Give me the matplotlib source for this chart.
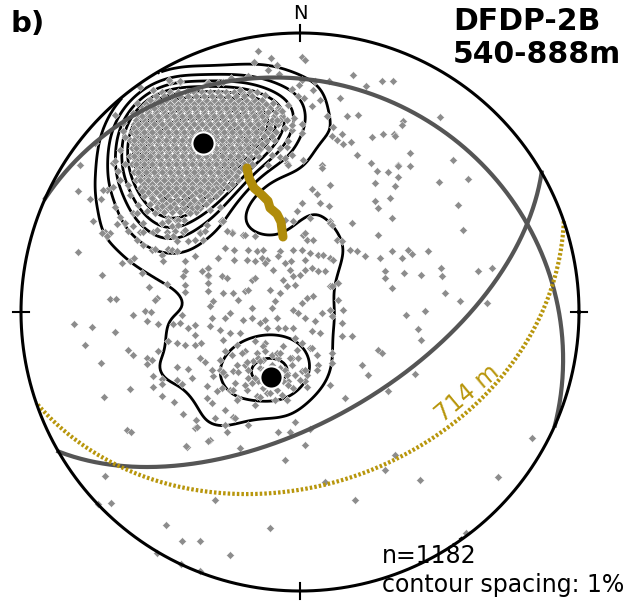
import numpy as np
import matplotlib.pyplot as plt

# Pole positions in the equal-area net, (east, north), net radius = 279 units
NET_R = 279.0

# dense pole cluster (NW), read row by row: (north, [east values])
cluster_rows = [
    (220, [-138, -130, -122, -114, -106, -98, -90, -82, -74, -66, -58, -50]),
    (212, [-150, -142, -134, -126, -118, -110, -102, -94, -86, -78, -70, -62, -54, -46, -38]),
    (204, [-158, -150, -142, -134, -126, -118, -110, -102, -94, -86, -78, -70, -62, -54, -46, -38, -30, -22]),
    (196, [-162, -154, -146, -138, -130, -122, -114, -106, -98, -90, -82, -74, -66, -58, -50, -42, -34, -26, -18]),
    (188, [-166, -158, -150, -142, -134, -126, -118, -110, -102, -94, -86, -78, -70, -62, -54, -46, -38, -30, -22]),
    (180, [-168, -160, -152, -144, -136, -128, -120, -112, -104, -96, -88, -80, -72, -64, -56, -48, -40, -32, -24]),
    (172, [-170, -162, -154, -146, -138, -130, -122, -114, -106, -98, -90, -82, -74, -66, -58, -50, -42, -34, -26]),
    (164, [-168, -160, -152, -144, -136, -128, -120, -112, -104, -96, -88, -80, -72, -64, -56, -48, -40, -32]),
    (156, [-170, -162, -154, -146, -138, -130, -122, -114, -106, -98, -90, -82, -74, -66, -58, -50, -42]),
    (148, [-168, -160, -152, -144, -136, -128, -120, -112, -104, -96, -88, -80, -72, -64, -56, -48]),
    (140, [-166, -158, -150, -142, -134, -126, -118, -110, -102, -94, -86, -78, -70, -62, -54]),
    (132, [-164, -156, -148, -140, -132, -124, -116, -108, -100, -92, -84, -76, -68, -62]),
    (124, [-160, -152, -144, -136, -128, -120, -112, -104, -96, -88, -80, -72]),
    (116, [-156, -148, -140, -132, -124, -116, -108, -100, -92, -84]),
    (108, [-150, -142, -134, -126, -118, -110, -102, -94]),
    (100, [-144, -136, -128, -120, -112, -104]),
    (92, [-132, -124, -116]),
]

# second set of cluster poles, between the rows above
cluster_mid_rows = [
    (216, [-144, -136, -128, -120, -112, -104, -96, -88, -80, -72, -64, -56, -48]),
    (208, [-154, -146, -138, -130, -122, -114, -106, -98, -90, -82, -74, -66, -58, -50, -42, -34]),
    (200, [-160, -152, -144, -136, -128, -120, -112, -104, -96, -88, -80, -72, -64, -56, -48, -40, -32, -24]),
    (192, [-164, -156, -148, -140, -132, -124, -116, -108, -100, -92, -84, -76, -68, -60, -52, -44, -36, -28, -20]),
    (184, [-166, -158, -150, -142, -134, -126, -118, -110, -102, -94, -86, -78, -70, -62, -54, -46, -38, -30]),
    (176, [-164, -156, -148, -140, -132, -124, -116, -108, -100, -92, -84, -76, -68, -60, -52, -44, -36, -28]),
    (168, [-166, -158, -150, -142, -134, -126, -118, -110, -102, -94, -86, -78, -70, -62, -54, -46, -38]),
    (160, [-164, -156, -148, -140, -132, -124, -116, -108, -100, -92, -84, -76, -68, -60, -52, -44]),
    (152, [-164, -156, -148, -140, -132, -124, -116, -108, -100, -92, -84, -76, -68, -60, -52]),
    (144, [-162, -154, -146, -138, -130, -122, -114, -106, -98, -90, -82, -74, -66, -58]),
    (136, [-160, -152, -144, -136, -128, -120, -112, -104, -96, -88, -80, -72, -64]),
    (128, [-156, -148, -140, -132, -124, -116, -108, -100, -92, -84, -76, -68]),
    (120, [-152, -144, -136, -128, -120, -112, -104, -96, -88, -80]),
    (112, [-146, -138, -130, -122, -114, -106, -98, -90]),
    (104, [-140, -132, -124, -116, -108, -100]),
]

# core of the cluster, third set
cluster_core_rows = [
    (204, [-154, -146, -138, -130, -122, -114, -106, -98, -90, -82, -74, -66, -58, -50, -42]),
    (196, [-158, -150, -142, -134, -126, -118, -110, -102, -94, -86, -78, -70, -62, -54, -46, -38]),
    (188, [-162, -154, -146, -138, -130, -122, -114, -106, -98, -90, -82, -74, -66, -58, -50, -42]),
    (180, [-164, -156, -148, -140, -132, -124, -116, -108, -100, -92, -84, -76, -68, -60, -52, -44]),
    (172, [-166, -158, -150, -142, -134, -126, -118, -110, -102, -94, -86, -78, -70, -62, -54, -46]),
    (164, [-164, -156, -148, -140, -132, -124, -116, -108, -100, -92, -84, -76, -68, -60, -52]),
    (156, [-166, -158, -150, -142, -134, -126, -118, -110, -102, -94, -86, -78, -70, -62]),
    (148, [-164, -156, -148, -140, -132, -124, -116, -108, -100, -92, -84, -76, -68]),
    (140, [-162, -154, -146, -138, -130, -122, -114, -106, -98, -90, -82, -74]),
    (132, [-160, -152, -144, -136, -128, -120, -112, -104, -96, -88, -80]),
    (124, [-156, -148, -140, -132, -124, -116, -108, -100, -92, -84]),
]

poles_fringe = [
    (-193, 122), (-185, 105), (-175, 89), (-195, 80), (-180, 95), (-167, 99), (-157, 89), (-160, 80),
    (-147, 80), (-138, 89), (-133, 80), (-117, 80), (-122, 92), (-110, 99), (-100, 80), (-93, 87),
    (-78, 92), (-68, 80), (-57, 77), (-117, 109), (-130, 105), (-143, 105), (-103, 105), (-90, 102),
    (-80, 105), (-100, 122), (-87, 122), (-73, 125), (-187, 125), (-175, 175), (-180, 162), (-187, 149),
    (-177, 189), (-163, 209), (-147, 222), (-130, 230), (-120, 230), (-93, 229), (-77, 230), (-60, 222),
    (-43, 220), (-27, 209), (-20, 202), (-13, 192), (-8, 182), (-13, 165), (-20, 155), (-13, 149),
    (-131, 232), (-120, 231), (-92, 229), (-160, 225), (-147, 222), (-185, 197), (-177, 181), (-167, 199),
    (-205, 169), (-220, 147), (-222, 121), (-210, 113), (-197, 122), (-199, 113), (-185, 151), (-182, 141),
    (-175, 148), (-180, 132), (-172, 127), (-170, 117), (-162, 107), (-163, 99), (-153, 101), (-145, 99),
    (-138, 106), (-132, 94), (-148, 114), (-158, 121),
]

poles_north = [
    (-42, 261), (-29, 254), (-46, 250), (-23, 247), (2, 255), (5, 252), (-32, 242), (-21, 238), (-52, 236),
    (-69, 234), (-82, 229), (-8, 223), (-1, 227), (2, 232), (15, 231), (29, 231), (53, 237), (82, 231),
    (93, 231), (66, 226), (13, 222), (4, 214), (-2, 216), (20, 212), (40, 214), (12, 206), (-6, 194),
    (2, 188), (2, 179), (-8, 187), (27, 196), (33, 185), (47, 196), (58, 197), (42, 178), (32, 176),
    (37, 172), (43, 168), (51, 170), (57, 157), (72, 175), (83, 178), (94, 178), (71, 149), (88, 140),
    (98, 147), (77, 141), (22, 147), (22, 144), (3, 152), (-15, 154), (-12, 147), (-32, 147), (30, 127),
    (12, 123), (17, 118), (2, 109), (20, 109), (29, 106), (75, 111), (78, 104), (90, 114), (75, 129),
    (-3, 101), (-79, 91), (-15, 92), (10, 94), (30, 91), (92, 94), (-35, 217), (-27, 209), (-18, 201),
    (-12, 207), (-23, 192), (-15, 184), (-12, 171), (-20, 164), (-8, 157), (-28, 157),
    (140, 195), (103, 191), (102, 187), (95, 176), (110, 159), (98, 146), (110, 146), (98, 135),
    (95, 126), (153, 152), (168, 133), (139, 130), (158, 107),
]

poles_west = [
    (-207, 91), (-183, 88), (-198, 79), (-190, 79), (-193, 76), (-172, 81), (-167, 86), (-157, 80),
    (-163, 72), (-157, 67), (-148, 62), (-145, 63), (-138, 57), (-137, 51), (-132, 63), (-128, 62),
    (-123, 61), (-143, 82), (-138, 89), (-132, 91), (-128, 86), (-122, 87), (-125, 81), (-115, 82),
    (-127, 76), (-133, 76), (-123, 71), (-112, 71), (-105, 72), (-97, 72), (-100, 79), (-95, 81),
    (-222, 60), (-178, 49), (-170, 51), (-166, 54), (-158, 39), (-198, 37), (-115, 51), (-105, 56),
    (-98, 41), (-92, 44), (-92, 36), (-115, 41), (-117, 36), (-133, 28), (-151, 25), (-143, 14),
    (-145, 12), (-115, 27), (-115, 20), (-92, 29), (-92, 21), (-190, 13), (-184, 13), (-155, 1),
    (-149, 0), (-153, -9), (-167, -3), (-142, -12), (-127, -12), (-120, -11), (-118, -3), (-112, -16),
    (-105, -13), (-226, -12), (-208, -15), (-185, -20), (-215, -33), (-105, -23), (-132, -29), (-123, -31),
    (-115, -33), (-105, -33), (-99, -31), (-142, -39), (-172, -38), (-167, -43), (-153, -46), (-148, -48),
    (-153, -52), (-199, -51), (-123, -55), (-112, -57), (-100, -46), (-95, -50), (-147, -64), (-138, -67),
    (-138, -72), (-123, -68), (-118, -72), (-108, -66), (-170, -77), (-147, -75), (-196, -85), (-138, -84),
    (-126, -90), (-93, -74), (-93, -86),
]

poles_center = [
    (-77, 91), (-68, 79), (-73, 81), (-55, 77), (-45, 76), (-82, 54), (-92, 44), (-66, 62), (-75, 64),
    (-52, 62), (-43, 61), (-37, 62), (-38, 54), (-33, 52), (-53, 52), (-66, 52), (-20, 61), (-22, 56),
    (-15, 49), (-9, 51), (-10, 42), (-7, 36), (-17, 32), (-27, 42), (-45, 51), (-35, 49), (-7, 91),
    (3, 77), (7, 72), (13, 72), (5, 79), (-7, 62), (2, 62), (10, 59), (5, 52), (18, 57), (23, 57),
    (30, 54), (33, 52), (37, 72), (42, 71), (30, 89), (32, 87), (52, 89), (50, 62), (57, 61), (65, 56),
    (78, 77), (80, 54), (92, 61), (85, 41), (85, 34), (92, 24), (38, 29), (30, 26), (25, 41), (18, 41),
    (12, 44), (5, 42), (0, 37), (-5, 27), (-13, 26), (-20, 19), (-30, 22), (-25, 11), (-28, 4), (-23, -6),
    (-35, -8), (-48, 4), (-57, -8), (-62, 12), (-70, -1), (-75, -6), (-88, -6), (-87, 11), (-90, 6),
    (-92, 37), (-78, 36), (-73, 34), (-77, 19), (-67, 19), (-55, 21), (-48, 32), (-45, 34), (-52, 22),
    (-7, 2), (2, 9), (7, 14), (13, 16), (-2, -1), (5, -6), (15, -9), (22, -1), (30, 2), (32, -4), (43, 2),
    (42, -11), (38, 12), (32, 26), (12, -19), (20, -21), (-7, -16), (-15, -16), (-22, -16), (-33, -16),
    (-40, -11), (-48, -6), (-60, -21), (-70, -21), (-80, -18), (-90, -14), (-77, -28), (-63, -33),
    (-55, -39), (-45, -29), (-35, -31), (-37, -34), (-17, -34), (-5, -26), (2, -31), (-3, -38), (10, -36),
    (17, -43), (32, -41), (42, -24), (52, -24), (78, -38), (82, -41), (62, -53), (68, -63), (88, -79),
    (45, -86), (30, -73), (18, -53), (7, -63), (2, -59), (-5, -63), (-13, -61), (-12, -69), (5, -69),
    (-7, -76), (-13, -88), (-25, -88), (-33, -81), (-42, -69), (-52, -66), (-40, -56), (-47, -49),
    (-55, -53), (-63, -53), (-67, -59), (-75, -63), (-80, -58), (-87, -64), (-83, -79), (-70, -78),
    (-62, -86), (-53, -78), (-65, -71), (-88, -91), (-45, -93), (-75, -98), (-22, -46), (-8, -46),
    (-37, -48), (-28, -43), (-68, -43), (-75, -39), (-43, -41), (-20, -56), (17, -58), (32, -51),
]

# second concentration, around the southern mean pole
poles_second_set = [
    (-42, -46), (-40, -49), (-37, -58), (-28, -53), (-15, -58), (-13, -63), (-17, -69), (-27, -73),
    (-37, -76), (-45, -66), (-12, -73), (-5, -63), (5, -58), (-52, -58), (-55, -73), (-35, -39),
    (-23, -41), (-8, -53), (-2, -46), (-30, -81), (-18, -83), (-43, -84),
    (-88, -58), (-80, -48), (-77, -60), (-62, -60), (-53, -50), (-48, -71), (-35, -71), (-23, -78),
    (0, -68), (7, -75), (-13, -88), (-40, -85), (-63, -88), (-67, -78), (-78, -76), (-58, -41),
    (-10, -46), (12, -36), (-20, -41), (-33, -62), (-25, -68), (-30, -70), (-22, -60),
]

poles_south = [
    (-85, -106), (-105, -116), (-67, -105), (-65, -106), (-52, -113), (-75, -113), (-73, -120), (-5, -110),
    (-90, -128), (-113, -135), (-22, -120), (10, -117), (-117, -102), (-104, -108), (-103, -115),
    (-173, -118), (-169, -120), (-114, -134), (-195, -164), (-202, -192), (-189, -191), (-134, -213),
    (-118, -229), (-100, -229), (-143, -241), (-119, -252), (-100, -259), (-92, -129), (-60, -136),
    (-10, -120), (5, -133), (-15, -148), (25, -170), (-30, -216), (55, -188), (95, -143), (85, -158),
    (120, -168), (-70, -243), (-85, -188), (166, -221),
]

poles_east = [
    (163, 82), (108, 62), (112, 58), (102, 54), (128, 61), (104, 39), (121, 37), (141, 44), (142, 36),
    (178, 41), (192, 44), (145, 19), (160, 11), (187, 9), (106, -3), (125, 1), (118, -17), (121, -28),
    (115, -62), (232, -126), (198, -165),
]

mean_poles = [(-97, 169), (-29, -65)]
trajectory = [(-53, 144), (-51, 134), (-46, 124), (-38, 117), (-32, 111), (-30, 104),
              (-23, 98), (-19, 90), (-18, 82), (-17, 75)]

# planes as (dip direction, dip)
gray_planes = [(24, 19), (150, 58)]
plane_714 = (161, 38)

n_total = 1182
GOLD = '#b8960c'


def to_xyz(x, y):
    r2 = np.clip(x**2 + y**2, 0, 1)
    s = np.sqrt(2 - r2)
    return np.stack([x * s, y * s, r2 - 1], axis=-1)


def great_circle(ddir, dip, n=400):
    dd, dp = np.radians(ddir), np.radians(dip)
    strike = np.array([np.sin(dd - np.pi / 2), np.cos(dd - np.pi / 2), 0.0])
    dipv = np.array([np.sin(dd) * np.cos(dp), np.cos(dd) * np.cos(dp), -np.sin(dp)])
    t = np.linspace(0, np.pi, n)
    v = np.outer(np.cos(t), strike) + np.outer(np.sin(t), dipv)
    d = np.sqrt(1 - v[:, 2])
    return v[:, 0] / d, v[:, 1] / d


def main():
    pts = []
    for rows in (cluster_rows, cluster_mid_rows, cluster_core_rows):
        pts += [(e, n) for n, row in rows for e in row]
    pts += poles_fringe + poles_north + poles_west + poles_center + poles_second_set
    pts += poles_south + poles_east
    pts = np.array(pts, dtype=float) / NET_R
    px, py = pts[:, 0], pts[:, 1]
    vec = to_xyz(px, py)

    # smoothed counting, % per 1% area
    k = 100.0
    g = np.linspace(-1, 1, 241)
    gx, gy = np.meshgrid(g, g)
    dens = np.zeros_like(gx)
    for i in range(gx.shape[0]):
        gv = to_xyz(gx[i], gy[i])
        c = np.abs(gv @ vec.T)
        dens[i] = k * np.exp(k * (c - 1)).sum(axis=1) / len(vec)
    dens[gx**2 + gy**2 > 1] = np.nan

    fig = plt.figure(figsize=(6.31, 6.06), dpi=100)
    ax = fig.add_axes([0, 0, 1, 1])
    ax.set_xlim(-300 / NET_R, 331 / NET_R)
    ax.set_ylim(-294 / NET_R, 312 / NET_R)
    ax.axis('off')

    levels = np.arange(1, np.nanmax(dens) + 0.01, 1.0)
    ax.contour(gx, gy, dens, levels=levels, colors='k', linewidths=2.0, zorder=2)

    ax.scatter(px, py, marker='D', s=16, color='#8c8c8c', edgecolors='white',
               linewidths=0.3, zorder=3)

    for ddir, dip in gray_planes:
        cx, cy = great_circle(ddir, dip)
        ax.plot(cx, cy, color='#555555', lw=3, zorder=4)
    cx, cy = great_circle(*plane_714)
    ax.plot(cx, cy, color=GOLD, lw=3, linestyle=(0, (0.6, 0.5)), zorder=4)
    ax.text(167 / NET_R, -81 / NET_R, '714 m', color=GOLD, fontsize=17, rotation=40,
            ha='center', va='center', zorder=5)

    tr = np.array(trajectory, dtype=float) / NET_R
    ax.plot(tr[:, 0], tr[:, 1], color='#b08c0a', lw=6.5, solid_capstyle='round',
            solid_joinstyle='round', zorder=5)

    mp = np.array(mean_poles, dtype=float) / NET_R
    ax.plot(mp[:, 0], mp[:, 1], 'o', color='black', markersize=16, mec='white', mew=1.5, zorder=6)

    th = np.linspace(0, 2 * np.pi, 500)
    ax.plot(np.cos(th), np.sin(th), color='black', lw=2.2, zorder=7)
    for a in (0, 90, 180, 270):
        ra = np.radians(a)
        ax.plot([0.97 * np.sin(ra), 1.03 * np.sin(ra)], [0.97 * np.cos(ra), 1.03 * np.cos(ra)],
                color='black', lw=1.5, zorder=7)

    fig.text(0.016, 0.947, 'b)', fontsize=21, fontweight='bold', va='baseline')
    fig.text(0.4754, 0.968, 'N', fontsize=14, ha='center', va='baseline')
    fig.text(0.718, 0.951, 'DFDP-2B', fontsize=21.5, fontweight='bold', va='baseline')
    fig.text(0.718, 0.896, '540-888m', fontsize=21.5, fontweight='bold', va='baseline')
    fig.text(0.605, 0.071, f'n={n_total}', fontsize=17, va='baseline')
    fig.text(0.605, 0.023, 'contour spacing: 1%', fontsize=17, va='baseline')

    fig.savefig('out.png', dpi=100)


if __name__ == '__main__':
    main()
